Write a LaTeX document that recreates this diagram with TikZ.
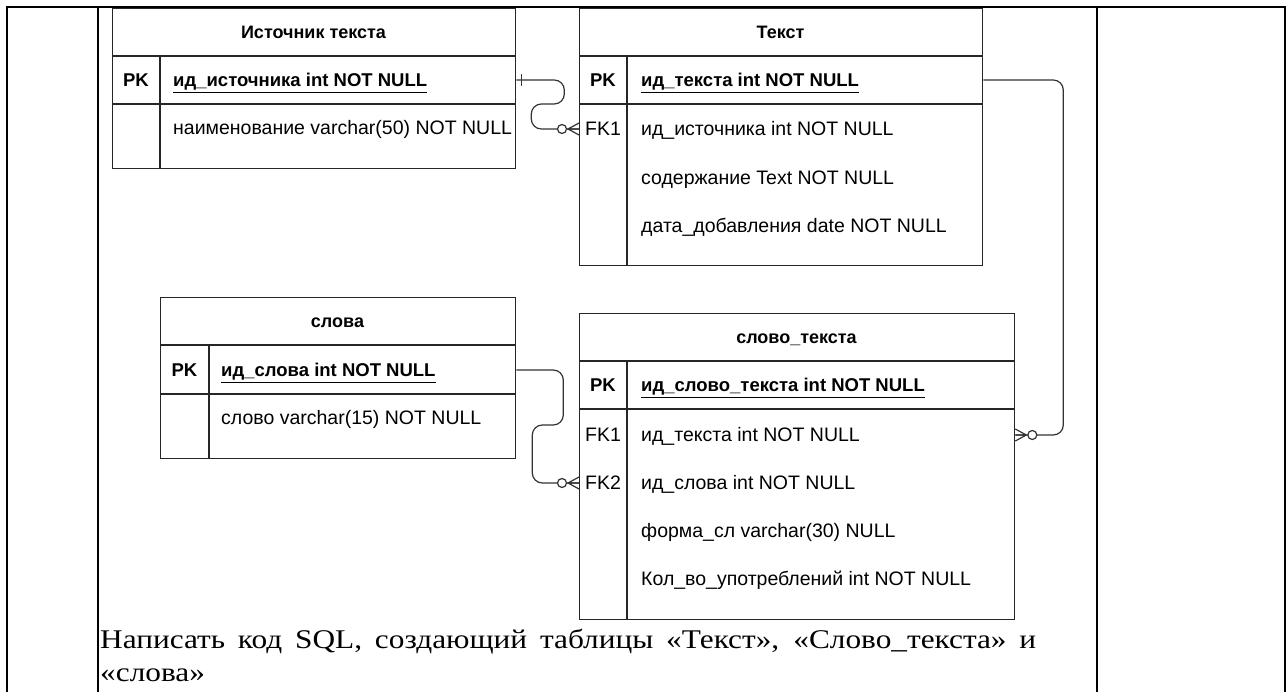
\documentclass[tikz,border=0pt]{standalone}
\usepackage{fontspec}
\setmainfont{Liberation Serif}
\setsansfont{Liberation Sans}
\newfontfamily\taskfont[FakeStretch=1.16]{Liberation Serif}
\newcommand{\erfont}{\sffamily\fontsize{19.5}{22}\selectfont}
\newcommand{\erbold}{\sffamily\bfseries\fontsize{18.5}{22}\selectfont}

\tikzset{
  erend/.style={draw=black!80, line width=1.2pt},
  onemark/.pic={\draw[erend] (5,-6) -- (5,6);},
  zeromany/.pic={
    \draw[erend] (0,-6) -- (-11,0) -- (0,6) (0,0) -- (-11,0);
    \draw[erend, fill=white] (-17,0) circle (4.5);
  }
}

\begin{document}
\begin{tikzpicture}[x=1pt, y=-1pt,
    frame/.style={line width=2pt},
    tablebox/.style={draw=black!85, line width=1.3pt, inner sep=0pt, anchor=north west},
    tableline/.style={draw=black!85, line width=1.3pt},
    link/.style={draw=black!80, line width=1.2pt, rounded corners=10pt},
    keycell/.style={font=\erfont, inner sep=0pt, text height=13.5pt, text depth=0pt},
    pkkey/.style={keycell, font=\erbold},
    title/.style={keycell, font=\sffamily\bfseries\fontsize{18}{22}\selectfont},
    cell/.style={keycell, anchor=west},
    pkcell/.style={cell, font=\erbold},
    task/.style={font=\taskfont\fontsize{27}{33}\selectfont, inner sep=0pt, anchor=base west}]
  \useasboundingbox (0,0) rectangle (1288,692);

  % рамка строки задания
  \draw[frame] (7,692) -- (7,7) -- (1285,7) -- (1285,692);
  \draw[frame] (98,7) -- (98,692);
  \draw[frame] (1097,7) -- (1097,692);

  % Источник текста
  \node[tablebox, minimum width=403pt, minimum height=160pt] (src) at (112,8) {};
  \draw[tableline] (112,56) -- (515,56) (112,104) -- (515,104) (160,56) -- (160,168);
  \node[title] (srctitle) at (313.5,32) {Источник текста};
  \node[pkkey] (srckey) at (136,80) {PK};
  \node[pkcell] (srcpk) at (173,80) {\underline{ид\_источника int NOT NULL}};
  \node[cell] (srcname) at (173,128) {наименование varchar(50) NOT NULL};

  % Текст
  \node[tablebox, minimum width=403pt, minimum height=257pt] (txt) at (579,8) {};
  \draw[tableline] (579,56) -- (982,56) (579,104) -- (982,104) (627,56) -- (627,265);
  \node[title] (txttitle) at (780.5,32) {Текст};
  \node[pkkey] (txtkey) at (603,80) {PK};
  \node[pkcell] (txtpk) at (641,80) {\underline{ид\_текста int NOT NULL}};
  \node[keycell] (txtfk) at (603,129) {FK1};
  \node[cell] (txtsrc) at (641,129) {ид\_источника int NOT NULL};
  \node[cell] (txtcont) at (641,178) {содержание Text NOT NULL};
  \node[cell] (txtdate) at (641,226) {дата\_добавления date NOT NULL};

  % слова
  \node[tablebox, minimum width=355pt, minimum height=161pt] (words) at (160,297) {};
  \draw[tableline] (160,345) -- (515,345) (160,394) -- (515,394) (209,345) -- (209,458);
  \node[title] (wordstitle) at (337.5,321) {слова};
  \node[pkkey] (wordskey) at (184.5,370) {PK};
  \node[pkcell] (wordspk) at (221,370) {\underline{ид\_слова int NOT NULL}};
  \node[cell] (wordsval) at (221,418) {слово varchar(15) NOT NULL};

  % слово_текста
  \node[tablebox, minimum width=435pt, minimum height=306pt] (wt) at (579,313) {};
  \draw[tableline] (579,361) -- (1014,361) (579,409) -- (1014,409) (627,361) -- (627,619);
  \node[title] (wttitle) at (796.5,337) {слово\_текста};
  \node[pkkey] (wtkey) at (603,385) {PK};
  \node[pkcell] (wtpk) at (641,385) {\underline{ид\_слово\_текста int NOT NULL}};
  \node[keycell] (wtfk1) at (603,435) {FK1};
  \node[keycell] (wtfk2) at (603,483) {FK2};
  \node[cell] (wttxt) at (641,435) {ид\_текста int NOT NULL};
  \node[cell] (wtword) at (641,483) {ид\_слова int NOT NULL};
  \node[cell] (wtform) at (641,531) {форма\_сл varchar(30) NULL};
  \node[cell] (wtcount) at (641,579) {Кол\_во\_употреблений int NOT NULL};

  % связи
  \draw[link] (src.east |- srcpk) -- ++(48,0) -- ++(0,24) -- ++(-33,0) |- (txt.west |- txtsrc);
  \draw[link] (words.east |- wordspk) -- ++(47,0) -- ++(0,55) -- ++(-31,0) |- (wt.west |- wtword);
  \draw[link] (txt.east |- txtpk) -- ++(80,0) |- (wt.east |- wttxt);
  \path (src.east |- srcpk) pic {onemark};
  \path (txt.west |- txtsrc) pic {zeromany};
  \path (wt.west |- wtword) pic {zeromany};
  \path (wt.east |- wttxt) pic[xscale=-1] {zeromany};

  % задание
  \node[task] (task1) at (100,648) {\makebox[936pt][s]{Написать код SQL, создающий таблицы «Текст», «Слово\_текста» и}};
  \node[task] (task2) at (100,681) {«слова»};
\end{tikzpicture}
\end{document}
